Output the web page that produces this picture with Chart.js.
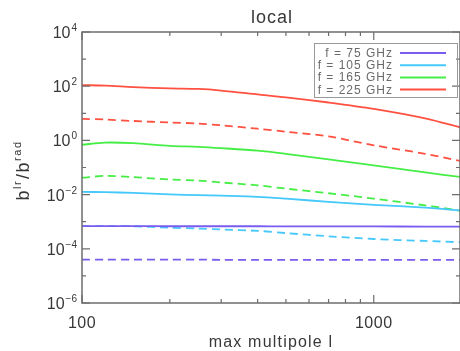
<!DOCTYPE html>
<html>
<head>
<meta charset="utf-8">
<script src="https://cdn.jsdelivr.net/npm/chart.js@4/dist/chart.umd.min.js"></script>
<style>
    html, body { margin: 0; padding: 0; background: #fff; }
    #wrap { width: 460px; height: 351px; position: relative; }
</style>
</head>
<body>
<div id="wrap"><canvas id="chart"></canvas></div>
<script>
// multipole values sampled along the x axis
const multipoles = [100, 120, 150, 200, 250, 300, 400, 500, 700, 1000, 1500, 2000];

// solid lines
const f75Solid  = [6.9e-4, 6.9e-4, 6.9e-4, 6.8e-4, 6.8e-4, 6.8e-4, 6.8e-4, 6.7e-4, 6.7e-4, 6.7e-4, 6.6e-4, 6.6e-4];
const f105Solid = [0.0126, 0.0123, 0.0115, 0.0102, 0.0095, 0.0091, 0.0083, 0.0071, 0.0054, 0.0042, 0.0033, 0.0026];
const f165Solid = [0.69, 0.83, 0.79, 0.63, 0.58, 0.52, 0.42, 0.32, 0.20, 0.12, 0.066, 0.044];
const f225Solid = [110, 105, 93, 83, 79, 69, 50, 39, 25, 14.5, 6.5, 2.95];

// dashed lines
const f75Dashed  = [4.0e-5, 4.0e-5, 4.0e-5, 4.0e-5, 4.0e-5, 3.9e-5, 3.9e-5, 3.9e-5, 3.9e-5, 3.9e-5, 3.9e-5, 3.9e-5];
const f105Dashed = [6.9e-4, 6.9e-4, 6.8e-4, 6.0e-4, 5.6e-4, 5.2e-4, 4.6e-4, 3.8e-4, 2.9e-4, 2.3e-4, 1.95e-4, 1.74e-4];
const f165Dashed = [0.042, 0.049, 0.044, 0.036, 0.033, 0.028, 0.022, 0.0166, 0.0112, 0.0071, 0.0040, 0.0025];
const f225Dashed = [6.2, 5.9, 5.2, 4.6, 4.2, 3.6, 2.7, 2.1, 1.4, 0.66, 0.32, 0.17];

const legendLabels = ['f = 75 GHz', 'f = 105 GHz', 'f = 165 GHz', 'f = 225 GHz'];

// axis ticks
const xTickValues = [100, 1000];
const xTickLabels = ['100', '1000'];
const xMinorTicks = [200, 300, 400, 500, 600, 700, 800, 900];
const yTickExponents = [-6, -4, -2, 0, 2, 4];
const yMinorExponents = [-5, -3, -1, 1, 3];

const titleText = 'local';
const xTitleText = 'max multipole l';

const colors = {
    f75: '#7a5cf0',
    f105: '#45c8fa',
    f165: '#45ee45',
    f225: '#ff5040'
};

function pts(arr) {
    return arr.map(function(v, i) { return { x: multipoles[i], y: v }; });
}

function line(label, arr, color, dashed) {
    return {
        label: label,
        data: pts(arr),
        borderColor: color,
        backgroundColor: color,
        borderWidth: 1.8,
        borderDash: dashed ? [8, 5] : [],
        pointRadius: 0,
        tension: 0.3,
        fill: false,
        legendEntry: !dashed
    };
}

const frameColor = '#6d6d6d';
const textColor = '#383838';
const FONT = ' "Liberation Sans", Arial, sans-serif';

// draws frame, inward ticks, labels, titles and legend
const decorPlugin = {
    id: 'decor',
    afterDraw: function(chart) {
        const ctx = chart.ctx;
        const a = chart.chartArea;
        const xs = chart.scales.x;
        const ys = chart.scales.y;

        ctx.save();
        ctx.strokeStyle = frameColor;
        ctx.lineWidth = 1.5;
        ctx.strokeRect(a.left, a.top, a.right - a.left, a.bottom - a.top);

        ctx.lineWidth = 1.2;
        function xTick(v, len) {
            const px = xs.getPixelForValue(v);
            ctx.beginPath();
            ctx.moveTo(px, a.bottom); ctx.lineTo(px, a.bottom - len);
            ctx.moveTo(px, a.top); ctx.lineTo(px, a.top + len);
            ctx.stroke();
        }
        function yTick(v, len) {
            const py = ys.getPixelForValue(v);
            ctx.beginPath();
            ctx.moveTo(a.left, py); ctx.lineTo(a.left + len, py);
            ctx.moveTo(a.right, py); ctx.lineTo(a.right - len, py);
            ctx.stroke();
        }
        xTickValues.forEach(function(v) { xTick(v, 8); });
        xMinorTicks.forEach(function(v) { xTick(v, 4); });
        yTickExponents.forEach(function(e) { yTick(Math.pow(10, e), 8); });
        yMinorExponents.forEach(function(e) { yTick(Math.pow(10, e), 4); });

        ctx.fillStyle = textColor;
        ctx.textBaseline = 'alphabetic';

        // x tick labels
        ctx.font = '16px' + FONT;
        ctx.letterSpacing = '0.5px';
        ctx.textAlign = 'center';
        xTickValues.forEach(function(v, i) {
            ctx.fillText(xTickLabels[i], xs.getPixelForValue(v), 328);
        });
        ctx.letterSpacing = '0px';

        // y tick labels: 10 with superscript exponent
        yTickExponents.forEach(function(e) {
            const py = ys.getPixelForValue(Math.pow(10, e));
            const sup = e < 0 ? '\u2212' + Math.abs(e) : String(e);
            ctx.font = '10px' + FONT;
            const supW = ctx.measureText(sup).width;
            const right = 77;
            ctx.textAlign = 'left';
            ctx.fillText(sup, right - supW, py - 1);
            ctx.font = '16px' + FONT;
            ctx.textAlign = 'right';
            ctx.fillText('10', right - supW - 1, py + 6);
        });

        // title
        ctx.textAlign = 'center';
        ctx.font = '18px' + FONT;
        ctx.letterSpacing = '1px';
        ctx.fillText(titleText, 272, 23);

        // x axis title
        ctx.font = '16px' + FONT;
        ctx.letterSpacing = '1.2px';
        ctx.fillText(xTitleText, 271, 347);

        // y axis title: b^lr / b^rad, rotated
        ctx.save();
        ctx.translate(29, 170);
        ctx.rotate(-Math.PI / 2);
        ctx.letterSpacing = '1.5px';
        const parts = [
            { t: 'b', sup: false }, { t: 'lr', sup: true },
            { t: '/b', sup: false }, { t: 'rad', sup: true }
        ];
        let total = 0;
        parts.forEach(function(p) {
            ctx.font = (p.sup ? '11px' : '18px') + FONT;
            p.w = ctx.measureText(p.t).width + (p.sup ? 1 : 0);
            total += p.w;
        });
        let cx = -total / 2;
        ctx.textAlign = 'left';
        parts.forEach(function(p) {
            ctx.font = (p.sup ? '11px' : '18px') + FONT;
            ctx.fillText(p.t, cx, p.sup ? -8 : 0);
            cx += p.w;
        });
        ctx.restore();

        // legend box
        ctx.strokeStyle = '#9a9a9a';
        ctx.lineWidth = 1;
        ctx.strokeRect(314.5, 43.5, 143, 54);
        ctx.font = '12px' + FONT;
        ctx.letterSpacing = '1px';
        ctx.fillStyle = '#6a6a6a';
        ctx.textAlign = 'right';
        let row = 0;
        chart.data.datasets.forEach(function(ds) {
            if (!ds.legendEntry) return;
            const y = 53 + row * 12.2;
            ctx.fillText(ds.label, 393, y + 4);
            ctx.strokeStyle = ds.borderColor;
            ctx.lineWidth = 2;
            ctx.beginPath();
            ctx.moveTo(400, y); ctx.lineTo(446, y);
            ctx.stroke();
            row++;
        });
        ctx.restore();
    }
};

const ctx = document.getElementById('chart').getContext('2d');
new Chart(ctx, {
    type: 'line',
    data: {
        datasets: [
            line(legendLabels[0], f75Solid, colors.f75, false),
            line(legendLabels[1], f105Solid, colors.f105, false),
            line(legendLabels[2], f165Solid, colors.f165, false),
            line(legendLabels[3], f225Solid, colors.f225, false),
            line(legendLabels[0] + ' dashed', f75Dashed, colors.f75, true),
            line(legendLabels[1] + ' dashed', f105Dashed, colors.f105, true),
            line(legendLabels[2] + ' dashed', f165Dashed, colors.f165, true),
            line(legendLabels[3] + ' dashed', f225Dashed, colors.f225, true)
        ]
    },
    options: {
        responsive: true,
        maintainAspectRatio: false,
        animation: false,
        layout: { padding: { top: 32, right: 0, left: 0, bottom: 0 } },
        scales: {
            x: {
                type: 'logarithmic',
                min: 100,
                max: 1975,
                grid: { display: false },
                border: { display: false },
                ticks: { display: false },
                afterFit: function(scale) { scale.height = 48; }
            },
            y: {
                type: 'logarithmic',
                min: 1e-6,
                max: 1e4,
                grid: { display: false },
                border: { display: false },
                ticks: { display: false },
                afterFit: function(scale) { scale.width = 82; }
            }
        },
        plugins: {
            legend: { display: false },
            tooltip: { enabled: false }
        }
    },
    plugins: [decorPlugin]
});
</script>
</body>
</html>
